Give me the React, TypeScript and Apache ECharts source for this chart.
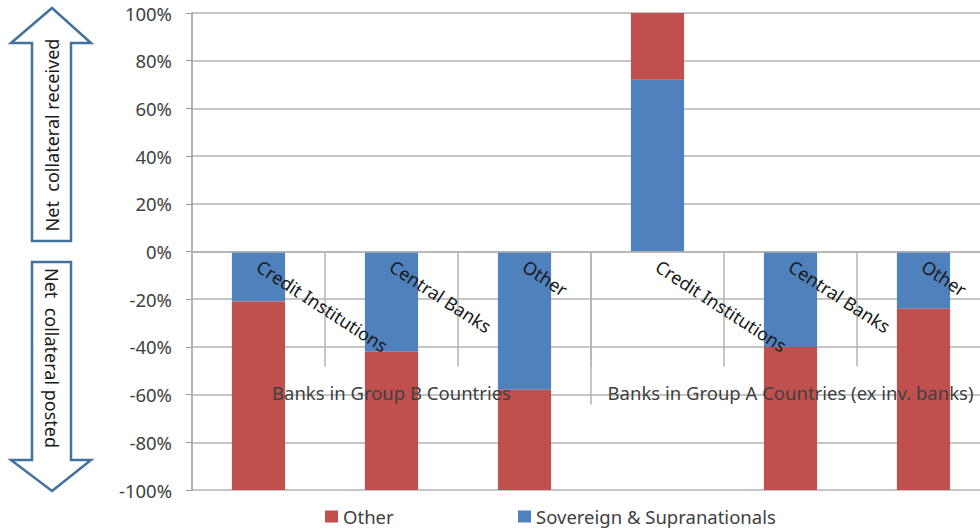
import React, { useEffect, useRef } from "react";
import * as echarts from "echarts";

const categories = ["Credit Institutions", "Central Banks", "Other", "Credit Institutions", "Central Banks", "Other"];
const groups = ["Banks in Group B Countries", "Banks in Group A Countries (ex inv. banks)"];
const sovereignValues = [-21, -42, -58, 72, -40, -24];
const otherValues = [-79, -58, -42, 28, -60, -76];
const yTicks = { min: -100, max: 100, interval: 20 };

const FONT = "Noto Sans";
const RED = "#c0504d";
const BLUE = "#4f81bd";

const GRID_TOP = 13;
const GRID_BOTTOM = 42;
const CHART_H = 532;
const ZERO_OFFSET = -(CHART_H - GRID_TOP - GRID_BOTTOM) / 2;

export default function App() {
  const ref = useRef<HTMLDivElement>(null);
  useEffect(() => {
    if (!ref.current) return;
    const chart = echarts.init(ref.current, null, { renderer: "svg" });
    const arrowStroke = "#41719c";
    chart.setOption({
      animation: false,
      textStyle: { fontFamily: FONT },
      grid: { left: 192, right: 10, top: GRID_TOP, bottom: GRID_BOTTOM, containLabel: false, outerBoundsMode: "none" },
      legend: [
        {
          data: ["Other"], left: 325, top: 507, padding: 0, itemWidth: 13, itemHeight: 12, icon: "rect",
          textStyle: { fontFamily: FONT, fontSize: 18.5, color: "#404040" },
        },
        {
          data: ["Sovereign & Supranationals"], left: 518, top: 507, padding: 0, itemWidth: 13, itemHeight: 12, icon: "rect",
          textStyle: { fontFamily: FONT, fontSize: 18.5, color: "#404040" },
        },
      ],
      xAxis: [
        {
          type: "category",
          data: categories,
          position: "bottom",
          offset: ZERO_OFFSET,
          z: 5,
          axisLine: { onZero: false, lineStyle: { color: "#b3b3b3", width: 1.5 } },
          axisTick: { show: true, length: 115, alignWithLabel: false, lineStyle: { color: "#b3b3b3", width: 1.5 } },
          axisLabel: { interval: 0, rotate: -33, margin: 13, fontSize: 18, color: "#1a1a1a", fontFamily: FONT },
          splitLine: { show: false },
        },
        {
          type: "category",
          data: groups,
          position: "bottom",
          offset: ZERO_OFFSET,
          z: 5,
          axisLine: { show: false, onZero: false },
          axisTick: { show: true, length: 153, lineStyle: { color: "#b3b3b3", width: 1.5 } },
          axisLabel: { interval: 0, margin: 131, fontSize: 18.5, color: "#404040", fontFamily: FONT },
          splitLine: { show: false },
        },
      ],
      yAxis: {
        type: "value",
        min: yTicks.min,
        max: yTicks.max,
        interval: yTicks.interval,
        axisLine: { show: true, lineStyle: { color: "#9a9a9a", width: 1.5 } },
        axisTick: { show: true, length: 6, lineStyle: { color: "#9a9a9a" } },
        axisLabel: { formatter: "{value}%", margin: 20, fontSize: 18.5, color: "#404040", fontFamily: FONT },
        splitLine: { lineStyle: { color: "#b3b3b3", width: 1.5 } },
      },
      series: [
        {
          name: "Sovereign & Supranationals",
          type: "bar",
          stack: "total",
          data: sovereignValues,
          barWidth: "40%",
          itemStyle: { color: BLUE },
          xAxisIndex: 0,
        },
        {
          name: "Other",
          type: "bar",
          stack: "total",
          data: otherValues,
          barWidth: "40%",
          itemStyle: { color: RED },
          xAxisIndex: 0,
        },
      ],
      graphic: [
        {
          type: "polygon",
          shape: { points: [[52, 8], [91, 43], [71, 43], [71, 241], [32, 241], [32, 43], [11, 43]] },
          style: { fill: "#fff", stroke: arrowStroke, lineWidth: 2.5 },
        },
        {
          type: "polygon",
          shape: { points: [[52, 491], [91, 460], [71, 460], [71, 262], [32, 262], [32, 460], [11, 460]] },
          style: { fill: "#fff", stroke: arrowStroke, lineWidth: 2.5 },
        },
        {
          type: "text",
          x: 52, y: 135, rotation: Math.PI / 2,
          style: { text: "Net  collateral received", fontSize: 18, fontFamily: FONT, fill: "#1a1a1a", align: "center", verticalAlign: "middle" },
        },
        {
          type: "text",
          x: 52, y: 358, rotation: -Math.PI / 2,
          style: { text: "Net  collateral posted", fontSize: 18, fontFamily: FONT, fill: "#1a1a1a", align: "center", verticalAlign: "middle" },
        },
      ],
    });
    return () => chart.dispose();
  }, []);
  return (
    <div style={{ position: "absolute", left: 0, top: 0, width: 980, height: 532, overflow: "hidden", background: "#fff" }}>
      <div ref={ref} style={{ width: 1000, height: 532 }} />
    </div>
  );
}
